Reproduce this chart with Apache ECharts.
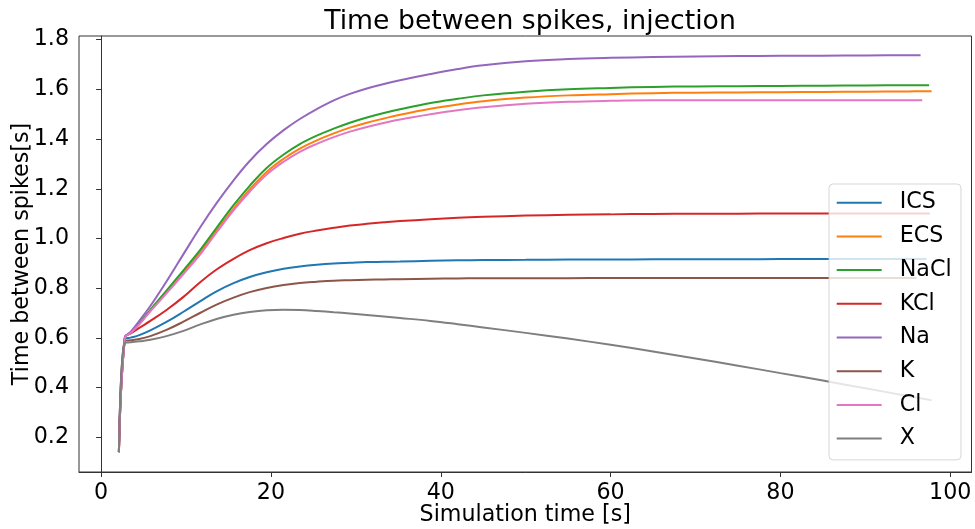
<!DOCTYPE html>
<html>
<head>
<meta charset="utf-8">
<script src="https://cdn.jsdelivr.net/npm/echarts@6/dist/echarts.min.js"></script>
<style>
  html, body { margin: 0; padding: 0; background: #fff; }
  #chart { width: 975px; height: 529px; }
</style>
</head>
<body>
<div id="chart"></div>
<script>
// Spike-interval traces per injected compartment / ion
const seriesNames = ['ICS', 'ECS', 'NaCl', 'KCl', 'Na', 'K', 'Cl', 'X'];
const seriesColors = ['#1f77b4', '#ff7f0e', '#2ca02c', '#d62728', '#9467bd', '#8c564b', '#e377c2', '#7f7f7f'];

// shared sample times [s]; last sample of each trace is at its own end time
const time = [2.1, 2.8, 3.5, 4.5, 5.8, 7.7, 9.7, 11.7, 13.6, 15.6, 17.5, 19.5, 21.5, 23.4, 25.4, 27.4,
  29.3, 31.3, 33.3, 35.2, 38.8, 42, 45, 50, 55, 60, 65, 70, 75, 80, 85, 90, 95];
const endTime = [97.2, 97.8, 97.5, 97.6, 96.5, 96.0, 96.7, 97.8];

// time between spikes [s]
const ICS = [0.14, 0.595, 0.601, 0.611, 0.630, 0.664, 0.705, 0.748, 0.787, 0.820, 0.845, 0.864, 0.878, 0.887, 0.894, 0.899,
  0.902, 0.905, 0.906, 0.907, 0.910, 0.912, 0.913, 0.914, 0.915, 0.915, 0.916, 0.916, 0.916, 0.917, 0.917, 0.917, 0.917, 0.917];
const ECS = [0.14, 0.60, 0.621, 0.656, 0.710, 0.784, 0.864, 0.945, 1.031, 1.120, 1.197, 1.268, 1.321, 1.362, 1.395, 1.423,
  1.446, 1.466, 1.483, 1.498, 1.522, 1.539, 1.552, 1.567, 1.576, 1.581, 1.585, 1.587, 1.588, 1.589, 1.590, 1.591, 1.592, 1.593];
const NaCl = [0.14, 0.60, 0.622, 0.658, 0.713, 0.790, 0.872, 0.955, 1.043, 1.134, 1.212, 1.284, 1.338, 1.380, 1.414, 1.442,
  1.466, 1.487, 1.505, 1.520, 1.545, 1.562, 1.576, 1.591, 1.601, 1.606, 1.610, 1.612, 1.613, 1.614, 1.615, 1.616, 1.617, 1.617];
const KCl = [0.14, 0.603, 0.618, 0.640, 0.668, 0.712, 0.765, 0.825, 0.875, 0.918, 0.953, 0.981, 1.002, 1.019, 1.032, 1.043,
  1.052, 1.059, 1.065, 1.070, 1.077, 1.083, 1.087, 1.092, 1.095, 1.097, 1.099, 1.100, 1.100, 1.101, 1.101, 1.101, 1.101, 1.101];
const Na = [0.14, 0.600, 0.625, 0.668, 0.728, 0.827, 0.937, 1.046, 1.142, 1.234, 1.312, 1.380, 1.436, 1.481, 1.521, 1.556,
  1.582, 1.604, 1.622, 1.637, 1.662, 1.682, 1.697, 1.713, 1.722, 1.727, 1.730, 1.732, 1.734, 1.735, 1.736, 1.737, 1.738, 1.738];
const K = [0.14, 0.588, 0.590, 0.595, 0.607, 0.632, 0.665, 0.701, 0.734, 0.762, 0.784, 0.801, 0.813, 0.821, 0.826, 0.830,
  0.832, 0.834, 0.835, 0.836, 0.838, 0.839, 0.840, 0.840, 0.840, 0.841, 0.841, 0.841, 0.841, 0.841, 0.841, 0.841, 0.841, 0.841];
const Cl = [0.14, 0.60, 0.620, 0.654, 0.707, 0.779, 0.857, 0.937, 1.024, 1.113, 1.188, 1.257, 1.309, 1.349, 1.381, 1.408,
  1.430, 1.449, 1.465, 1.479, 1.500, 1.516, 1.528, 1.542, 1.550, 1.554, 1.556, 1.556, 1.556, 1.556, 1.556, 1.556, 1.556, 1.556];
const X = [0.14, 0.580, 0.582, 0.586, 0.592, 0.607, 0.628, 0.654, 0.676, 0.693, 0.704, 0.711, 0.713, 0.712, 0.708, 0.703,
  0.698, 0.692, 0.686, 0.680, 0.668, 0.655, 0.642, 0.620, 0.597, 0.572, 0.545, 0.517, 0.488, 0.458, 0.428, 0.397, 0.366, 0.349];

const seriesValues = [ICS, ECS, NaCl, KCl, Na, K, Cl, X];

const xTicks = [0, 20, 40, 60, 80, 100];
const yTicks = [0.2, 0.4, 0.6, 0.8, 1.0, 1.2, 1.4, 1.6, 1.8];

const FONT = 'DejaVu Sans';
const BASE = 22.2;
const AXIS_COLOR = '#333';

function toPoints(vals, k) {
  const pts = time.map((t, i) => [t, vals[i]]);
  pts.push([endTime[k], vals[vals.length - 1]]);
  return pts;
}

const chart = echarts.init(document.getElementById('chart'), null, { renderer: 'canvas' });

chart.setOption({
  animation: false,
  backgroundColor: '#fff',
  color: seriesColors,
  title: {
    text: 'Time between spikes, injection',
    left: 525,
    top: 4,
    textAlign: 'center',
    textStyle: { fontFamily: FONT, fontSize: 26.7, fontWeight: 'normal', color: '#000' }
  },
  grid: {
    left: 79, right: 3.5, top: 36, bottom: 57,
    outerBoundsMode: 'none',
    containLabel: false,
    show: true, borderColor: AXIS_COLOR, borderWidth: 1, backgroundColor: 'transparent'
  },
  legend: {
    orient: 'vertical',
    left: 829,
    top: 184,
    icon: 'rect',
    itemWidth: 45,
    itemHeight: 2,
    itemGap: 9.7,
    padding: [6.7, 9.4, 9.3, 7.7],
    backgroundColor: 'rgba(255,255,255,0.8)',
    borderColor: 'rgba(204,204,204,0.8)',
    borderWidth: 1,
    borderRadius: 4,
    selectedMode: false,
    data: seriesNames,
    textStyle: {
      fontFamily: FONT, fontSize: BASE, color: '#000', lineHeight: 24,
      padding: [0, 0, 0, 13]
    }
  },
  xAxis: {
    type: 'value',
    min: -2.6,
    max: 102.5,
    name: 'Simulation time [s]',
    nameLocation: 'middle',
    nameGap: 32,
    nameMoveOverlap: false,
    nameTextStyle: { fontFamily: FONT, fontSize: BASE, color: '#000' },
    splitLine: { show: false },
    axisLine: { show: true, lineStyle: { color: AXIS_COLOR, width: 1 } },
    axisTick: { show: true, length: 5, lineStyle: { color: AXIS_COLOR, width: 1 }, customValues: xTicks },
    axisLabel: {
      margin: 10, fontFamily: FONT, fontSize: BASE, color: '#000',
      customValues: xTicks,
      formatter: v => String(v)
    }
  },
  yAxis: {
    type: 'value',
    min: 0.06,
    max: 1.815,
    name: 'Time between spikes[s]',
    nameLocation: 'middle',
    nameGap: 46,
    nameMoveOverlap: false,
    nameRotate: 90,
    nameTextStyle: { fontFamily: FONT, fontSize: BASE, color: '#000' },
    splitLine: { show: false },
    axisLine: { show: true, lineStyle: { color: AXIS_COLOR, width: 1 } },
    axisTick: { show: true, length: 5, lineStyle: { color: AXIS_COLOR, width: 1 }, customValues: yTicks },
    axisLabel: {
      margin: 10, fontFamily: FONT, fontSize: BASE, color: '#000',
      customValues: yTicks,
      formatter: v => v.toFixed(1)
    }
  },
  series: seriesNames.map((name, k) => ({
    name,
    type: 'line',
    data: toPoints(seriesValues[k], k),
    showSymbol: false,
    symbol: 'none',
    smooth: 0.4,
    lineStyle: { width: 2, color: seriesColors[k] },
    itemStyle: { color: seriesColors[k] },
    emphasis: { disabled: true }
  }))
});
</script>
</body>
</html>
